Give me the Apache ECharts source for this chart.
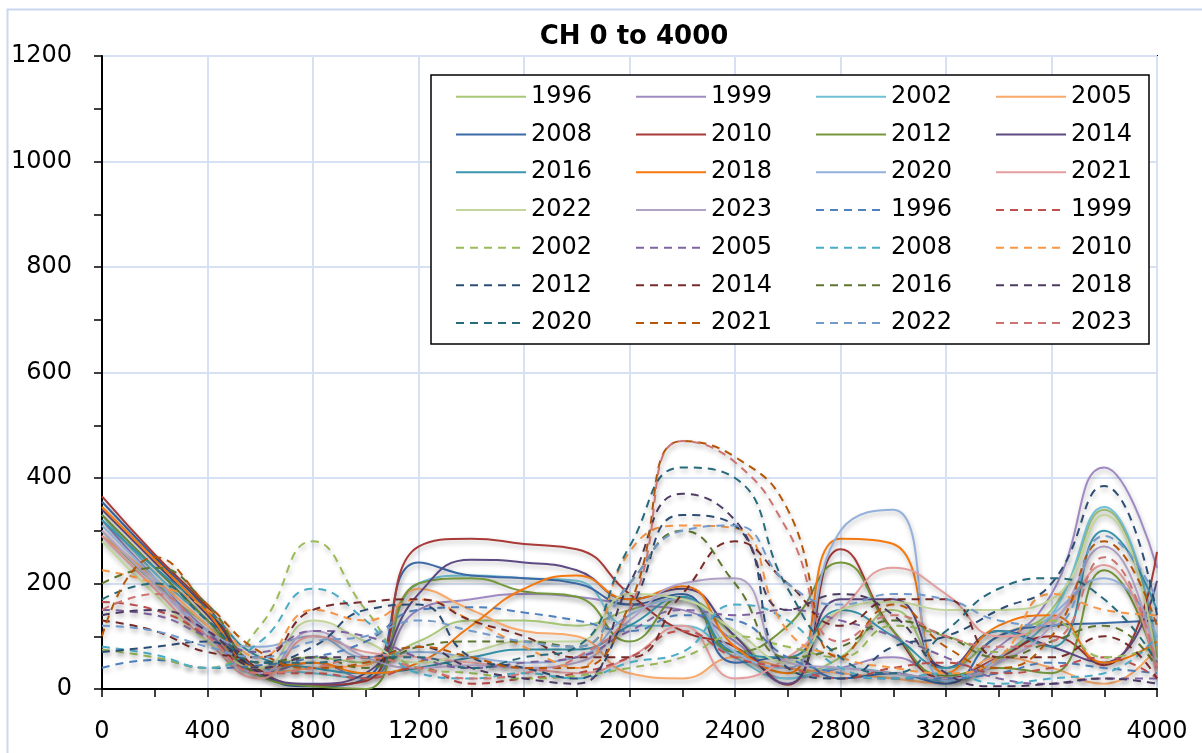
<!DOCTYPE html>
<html>
<head>
<meta charset="utf-8">
<script src="https://cdn.jsdelivr.net/npm/echarts@6/dist/echarts.min.js"></script>
<style>
  html, body { margin: 0; padding: 0; background: #fff; }
  #chart { width: 1202px; height: 753px; }
</style>
</head>
<body>
<div id="chart"></div>
<script>
// chainage positions (m)
const chainage = [0, 200, 400, 600, 800, 1000, 1200, 1400, 1600, 1800, 2000,
  2200, 2400, 2600, 2800, 3000, 3200, 3400, 3600, 3800, 4000]

const years = ["1996", "1999", "2002", "2005", "2008", "2010", "2012",
  "2014", "2016", "2018", "2020", "2021", "2022", "2023"]

// solid set
const solid1996 = [300, 200, 120, 40, 60, 50, 90, 130, 130, 120, 150, 170, 100, 30, 60, 150, 40, 100, 150, 340, 60]
const solid1999 = [320, 210, 110, 30, 50, 20, 150, 170, 180, 175, 160, 150, 90, 20, 40, 60, 20, 80, 180, 420, 230]
const solid2002 = [330, 220, 130, 40, 30, 20, 200, 215, 210, 205, 120, 120, 60, 20, 40, 30, 15, 60, 140, 345, 80]
const solid2005 = [290, 210, 120, 30, 40, 45, 190, 150, 110, 100, 30, 20, 60, 40, 30, 20, 10, 60, 40, 10, 80]
const solid2008 = [355, 250, 150, 30, 5, 20, 240, 215, 210, 200, 160, 180, 50, 60, 20, 30, 10, 100, 120, 125, 130]
const solid2010 = [365, 255, 155, 35, 8, 15, 270, 285, 275, 265, 180, 110, 80, 8, 265, 110, 20, 60, 100, 45, 260]
const solid2012 = [330, 230, 130, 25, 5, 0, 200, 210, 185, 175, 90, 175, 70, 120, 240, 110, 25, 40, 30, 225, 40]
const solid2014 = [340, 240, 140, 30, 10, 30, 180, 245, 240, 225, 170, 190, 100, 10, 170, 170, 40, 110, 80, 50, 205]
const solid2016 = [320, 230, 150, 60, 40, 30, 40, 60, 75, 75, 120, 175, 70, 60, 150, 100, 40, 110, 80, 300, 150]
const solid2018 = [345, 245, 145, 40, 50, 30, 50, 120, 190, 215, 170, 195, 80, 30, 285, 275, 30, 120, 140, 50, 90]
const solid2020 = [310, 210, 110, 80, 100, 60, 70, 60, 50, 60, 140, 170, 70, 40, 300, 340, 15, 60, 140, 210, 100]
const solid2021 = [290, 190, 90, 20, 100, 70, 60, 50, 40, 30, 60, 120, 20, 60, 150, 230, 180, 100, 130, 235, 20]
const solid2022 = [280, 180, 90, 40, 130, 90, 50, 70, 90, 90, 180, 170, 110, 50, 150, 165, 150, 150, 170, 330, 40]
const solid2023 = [300, 200, 100, 30, 110, 60, 40, 45, 40, 50, 130, 200, 210, 50, 40, 30, 20, 50, 120, 270, 40]

// dashed set
const dashed1996 = [40, 55, 40, 45, 60, 90, 150, 155, 145, 130, 110, 140, 130, 60, 30, 20, 20, 30, 50, 40, 30]
const dashed1999 = [165, 150, 100, 30, 30, 20, 40, 10, 20, 30, 60, 110, 60, 40, 20, 40, 50, 30, 40, 60, 20]
const dashed2002 = [75, 60, 40, 120, 280, 150, 40, 30, 20, 25, 40, 60, 100, 80, 60, 120, 100, 70, 130, 60, 80]
const dashed2005 = [150, 140, 100, 70, 110, 100, 60, 40, 50, 60, 110, 150, 140, 150, 130, 100, 60, 20, 10, 20, 20]
const dashed2008 = [80, 65, 40, 90, 190, 130, 30, 20, 30, 20, 50, 70, 160, 130, 40, 20, 30, 10, 20, 30, 100]
const dashed2010 = [225, 200, 150, 60, 150, 130, 170, 130, 80, 40, 260, 310, 305, 110, 60, 40, 30, 60, 180, 150, 140]
const dashed2012 = [70, 80, 90, 50, 80, 150, 160, 60, 40, 20, 150, 330, 310, 40, 20, 80, 100, 150, 200, 385, 140]
const dashed2014 = [130, 110, 70, 60, 150, 165, 170, 130, 100, 60, 60, 180, 280, 200, 120, 170, 170, 60, 60, 100, 20]
const dashed2016 = [200, 230, 160, 50, 60, 40, 80, 90, 90, 80, 200, 300, 200, 60, 80, 130, 100, 60, 90, 120, 40]
const dashed2018 = [140, 150, 110, 40, 60, 60, 80, 40, 20, 10, 200, 370, 320, 150, 180, 140, 30, 5, 10, 20, 10]
const dashed2020 = [170, 200, 130, 50, 50, 60, 60, 40, 60, 80, 270, 420, 400, 190, 60, 30, 110, 190, 210, 170, 50]
const dashed2021 = [100, 250, 160, 70, 40, 50, 80, 60, 40, 40, 160, 470, 440, 340, 60, 160, 80, 40, 100, 280, 120]
const dashed2022 = [120, 110, 80, 60, 90, 100, 130, 110, 90, 80, 200, 300, 310, 200, 160, 180, 170, 130, 120, 290, 170]
const dashed2023 = [150, 180, 100, 30, 40, 60, 40, 20, 30, 60, 150, 470, 430, 300, 90, 140, 100, 80, 90, 250, 40]

const solidSets = [solid1996, solid1999, solid2002, solid2005, solid2008, solid2010, solid2012,
  solid2014, solid2016, solid2018, solid2020, solid2021, solid2022, solid2023]
const dashedSets = [dashed1996, dashed1999, dashed2002, dashed2005, dashed2008, dashed2010, dashed2012,
  dashed2014, dashed2016, dashed2018, dashed2020, dashed2021, dashed2022, dashed2023]

const solidColors = ["#A8C878", "#9F8AC3", "#6FC0D4", "#F9A96A", "#3C6AA8", "#A83A37", "#76983C",
  "#5E4A82", "#3996AE", "#F5790F", "#93B1DB", "#E39E9D", "#C3D69B", "#B3A2C7"]
const dashedColors = ["#4F81BD", "#C0504D", "#9BBB59", "#8064A2", "#4BACC6", "#F79646", "#2C4D75",
  "#772C2A", "#5F7530", "#4D3B62", "#276A7C", "#B65708", "#729ACA", "#CD7371"]

const font = "DejaVu Sans"

const makeSeries = (name, values, color, dashed) => ({
  name: name,
  type: "line",
  smooth: 0.5,
  symbol: "none",
  data: values.map((v, i) => [chainage[i], v]),
  lineStyle: {
    color: color,
    width: 2,
    type: dashed ? [8, 6] : "solid",
    shadowColor: "rgba(0,0,0,0.28)",
    shadowBlur: 5,
    shadowOffsetX: 1,
    shadowOffsetY: 3,
  },
  itemStyle: { color: color },
  z: dashed ? 3 : 2,
})

const series = []
years.forEach((y, i) => series.push(makeSeries(y + "-s", solidSets[i], solidColors[i], false)))
years.forEach((y, i) => series.push(makeSeries(y + "-d", dashedSets[i], dashedColors[i], true)))

// legend is read row by row (4 columns), the vertical legend fills column by column
const legendData = []
for (let col = 0; col < 4; col++) {
  for (let row = 0; row < 7; row++) {
    const s = series[row * 4 + col]
    legendData.push(col < 3 ? { name: s.name } : { name: s.name, textStyle: { width: 62 } })
  }
}

const chart = echarts.init(document.getElementById("chart"))

const option = {
  animation: false,
  backgroundColor: "#fff",
  title: {
    text: "CH 0 to 4000",
    left: 629,
    textAlign: "center",
    top: 19,
    textStyle: { fontFamily: font, fontSize: 26, fontWeight: "bold", color: "#000" },
  },
  graphic: [
    {
      type: "rect",
      left: 5,
      top: 7,
      shape: { width: 1260, height: 800 },
      style: { fill: "none", stroke: "#C9D8EE", lineWidth: 2 },
      silent: true,
      z: -10,
    },
  ],
  legend: {
    orient: "vertical",
    left: 431,
    top: 75,
    height: 272,
    padding: [3, 16, 2, 24],
    itemGap: 0,
    itemWidth: 70,
    itemHeight: 14,
    itemStyle: { opacity: 0 },
    backgroundColor: "#fff",
    borderColor: "#000",
    borderWidth: 1.5,
    formatter: (name) => name.slice(0, 4),
    textStyle: { fontFamily: font, fontSize: 24, color: "#000", width: 104, lineHeight: 37.7 },
    data: legendData,
    z: 10,
  },
  grid: {
    left: 102,
    right: 45,
    top: 56,
    bottom: 64,
    show: true,
    borderColor: "#000",
    borderWidth: 2,
    backgroundColor: "transparent",
  },
  xAxis: {
    type: "value",
    min: 0,
    max: 4000,
    interval: 400,
    axisLine: { onZero: false, lineStyle: { color: "#000", width: 2 } },
    axisTick: { show: true, inside: false, length: 8, lineStyle: { color: "#000", width: 1.5 } },
    minorTick: { show: true, splitNumber: 2, length: 8, lineStyle: { color: "#000", width: 1.5 } },
    axisLabel: { fontFamily: font, fontSize: 24, color: "#000", margin: 31, formatter: (v) => String(v) },
    splitLine: { show: true, lineStyle: { color: "#D6E2F3", width: 2 } },
  },
  yAxis: {
    type: "value",
    min: 0,
    max: 1200,
    interval: 200,
    axisLine: { show: true, lineStyle: { color: "#000", width: 2 } },
    axisTick: { show: true, inside: false, length: 8, lineStyle: { color: "#000", width: 1.5 } },
    minorTick: { show: true, splitNumber: 2, length: 8, lineStyle: { color: "#000", width: 1.5 } },
    axisLabel: { fontFamily: font, fontSize: 24, color: "#000", margin: 30, formatter: (v) => String(v) },
    splitLine: { show: true, lineStyle: { color: "#D6E2F3", width: 2 } },
  },
  series: series,
}

chart.setOption(option)
</script>
</body>
</html>
